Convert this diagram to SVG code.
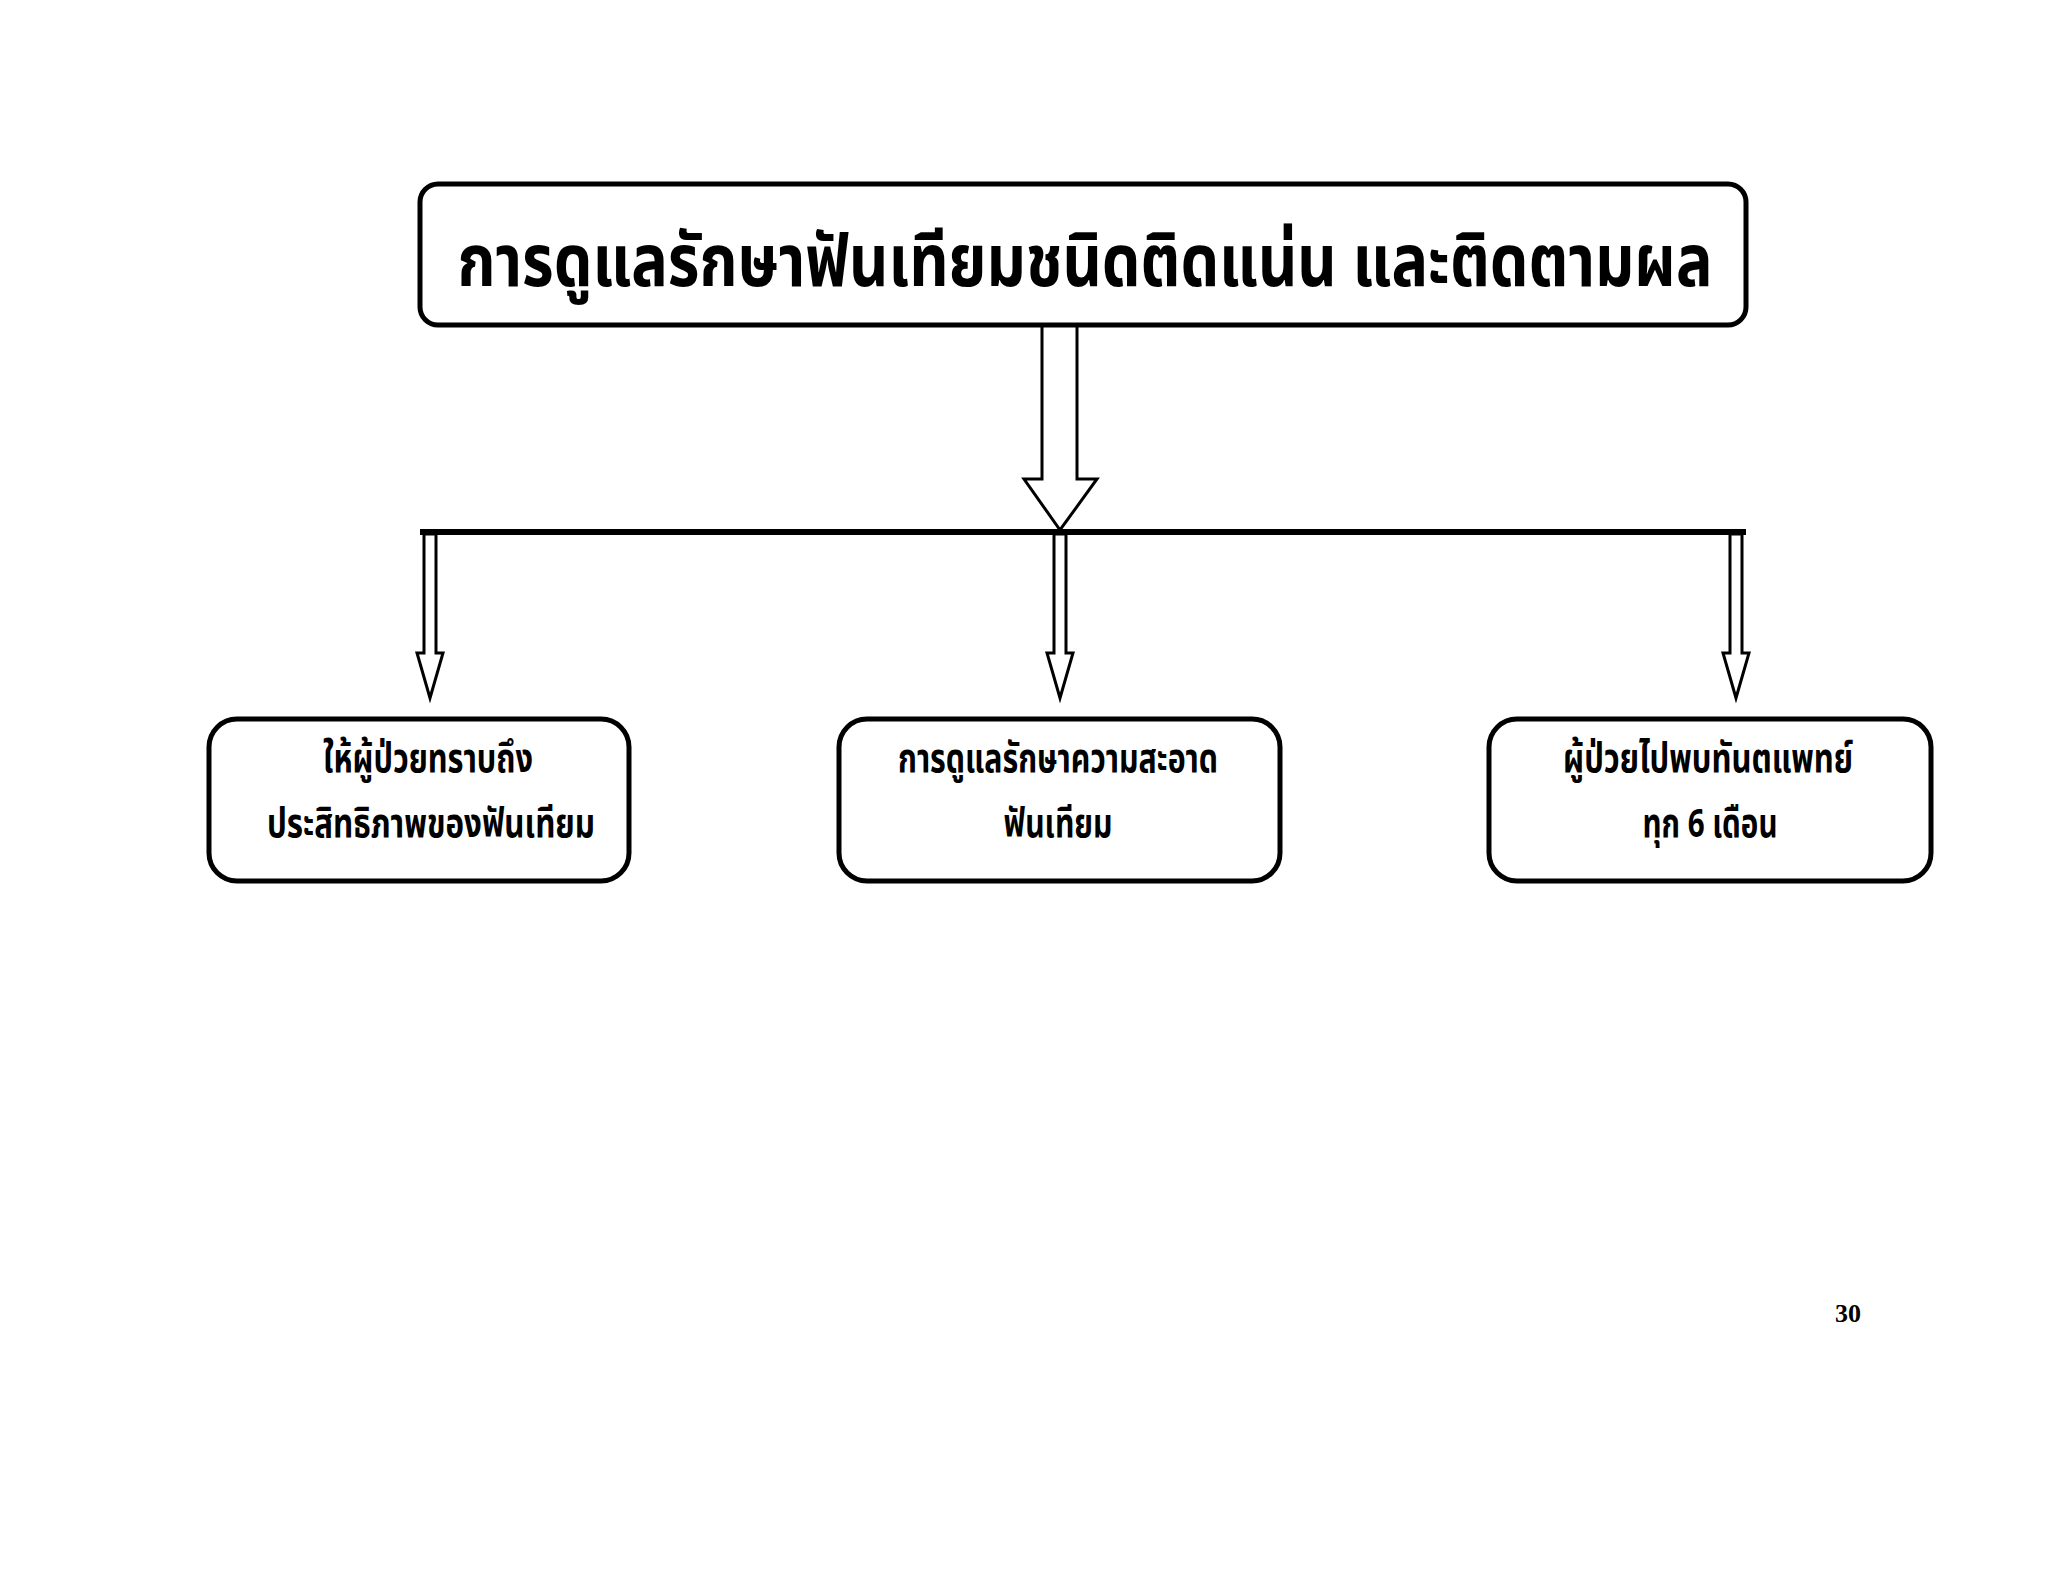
<svg xmlns="http://www.w3.org/2000/svg" width="2048" height="1582" viewBox="0 0 2048 1582">
<style>
.box{fill:#fff;stroke:#000;stroke-width:5}
.arr{fill:#fff;stroke:#000;stroke-width:3;stroke-linejoin:miter}
.th{font-family:"Noto Sans Thai","Noto Serif Thai","Garuda","Loma","Liberation Serif",serif;font-weight:bold;fill:#000;text-anchor:middle}
.t1{font-size:72px}
.t2{font-size:40px}
.pg{font-family:"Liberation Serif","Times New Roman",serif;font-weight:bold;font-size:26px;fill:#000}
</style>
<rect width="2048" height="1582" fill="#fff"/>
<g id="connectors">
<polygon class="arr" points="1042,324 1077,324 1077,479 1097,479 1060,530 1024,479 1042,479"/>
<line x1="420" y1="532" x2="1746" y2="532" stroke="#000" stroke-width="6"/>
<polygon class="arr" points="424,534 436,534 436,653 443,653 430,698 417,653 424,653"/>
<polygon class="arr" points="1054,534 1066,534 1066,653 1073,653 1060,698 1047,653 1054,653"/>
<polygon class="arr" points="1730,534 1742,534 1742,653 1749,653 1736,698 1723,653 1730,653"/>
</g>
<g id="node-top">
<rect class="box" x="420" y="184" width="1326" height="141" rx="18"/>
<text class="th t1" x="1085" y="286" textLength="1255" lengthAdjust="spacingAndGlyphs">การดูแลรักษาฟันเทียมชนิดติดแน่น และติดตามผล</text>
</g>
<g id="node-left">
<rect class="box" x="209" y="719" width="420" height="162" rx="28"/>
<text class="th t2" x="428" y="772" textLength="210" lengthAdjust="spacingAndGlyphs">ให้ผู้ป่วยทราบถึง</text>
<text class="th t2" x="431" y="837" textLength="328" lengthAdjust="spacingAndGlyphs">ประสิทธิภาพของฟันเทียม</text>
</g>
<g id="node-middle">
<rect class="box" x="839" y="719" width="441" height="162" rx="28"/>
<text class="th t2" x="1058" y="772" textLength="320" lengthAdjust="spacingAndGlyphs">การดูแลรักษาความสะอาด</text>
<text class="th t2" x="1058" y="837" textLength="109" lengthAdjust="spacingAndGlyphs">ฟันเทียม</text>
</g>
<g id="node-right">
<rect class="box" x="1489" y="719" width="442" height="162" rx="28"/>
<text class="th t2" x="1708" y="772" textLength="290" lengthAdjust="spacingAndGlyphs">ผู้ป่วยไปพบทันตแพทย์</text>
<text class="th t2" x="1710" y="837" textLength="135" lengthAdjust="spacingAndGlyphs">ทุก 6 เดือน</text>
</g>
<text class="pg" x="1835" y="1322">30</text>
</svg>
